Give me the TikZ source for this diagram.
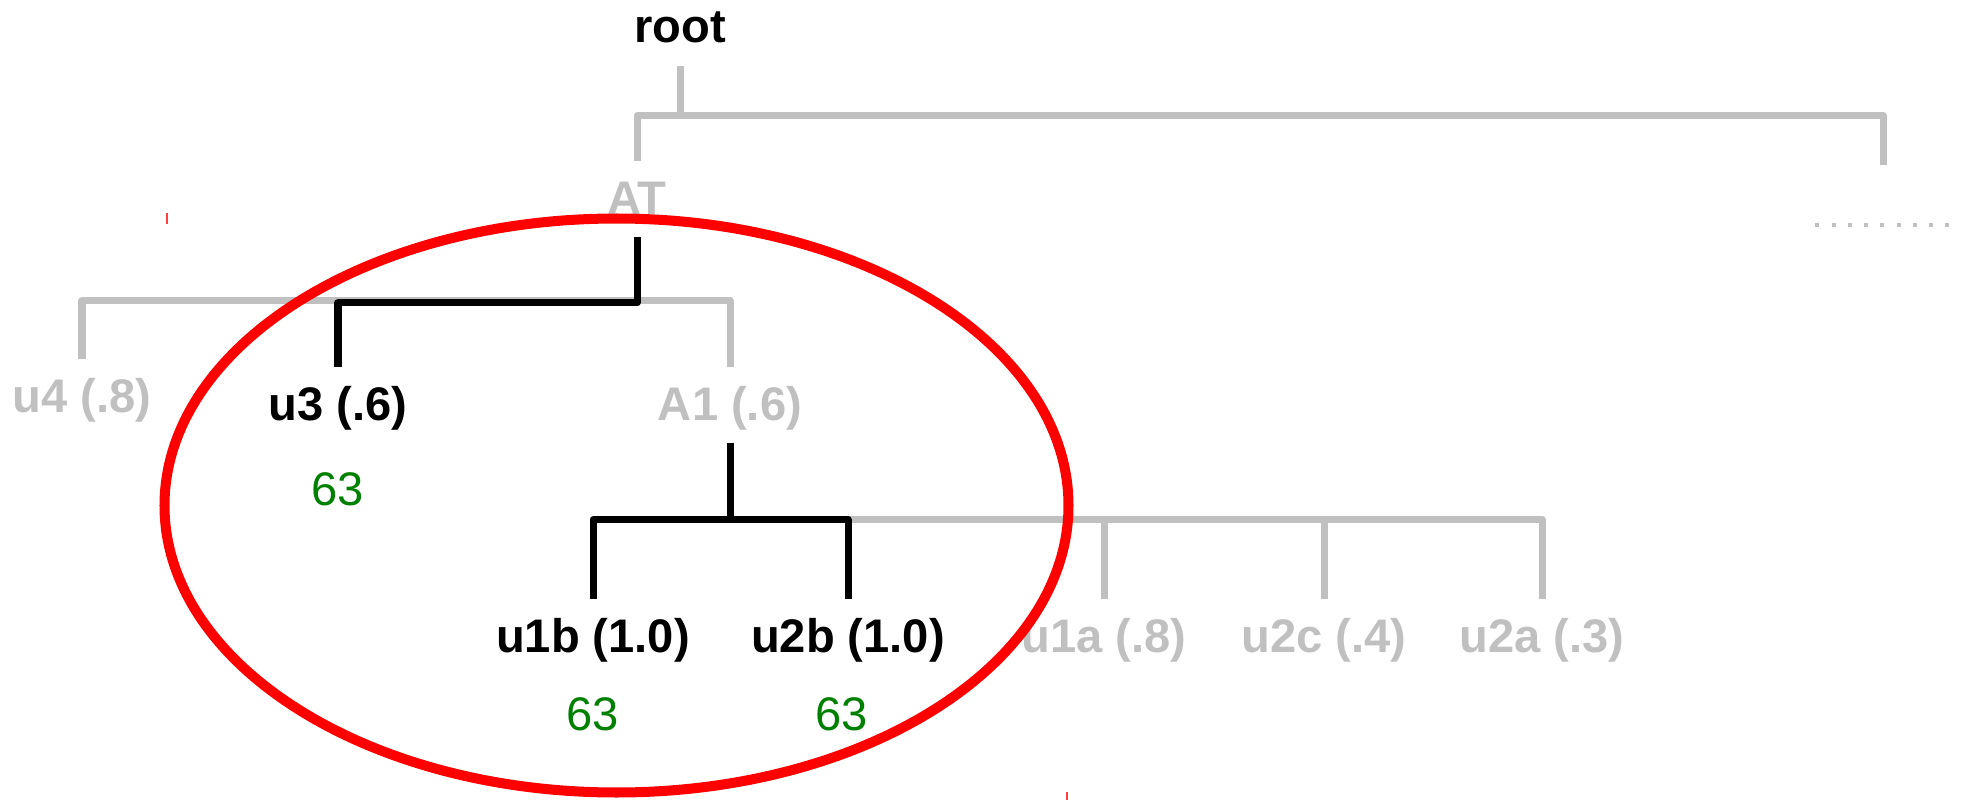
\documentclass[tikz,border=0pt]{standalone}
\usepackage{fontspec}
\setmainfont{Liberation Sans}
\usepackage{xcolor}
\usepackage{tikz}
\usetikzlibrary{positioning}

\definecolor{treegray}{RGB}{192,192,192}
\definecolor{scoregreen}{RGB}{0,128,0}

\begin{document}
\begin{tikzpicture}[
  x=0.01cm, y=-0.01cm,
  lbl/.style={font=\fontsize{13.4}{16}\selectfont\bfseries, anchor=base,
              text height=0.42cm, text depth=0.12cm, inner xsep=0pt, inner ysep=1mm},
  dim/.style={lbl, text=treegray},
  score/.style={font=\fontsize{13.4}{16}\selectfont, text=scoregreen, anchor=base, inner sep=0pt},
  edge/.style={draw=treegray, line width=0.07cm, line join=round},
  hot/.style={draw=black, line width=0.07cm, line join=round},
  dotrow/.style={draw=treegray, line width=0.04cm, dash pattern=on 0.04cm off 0.1225cm}
]
\useasboundingbox (0,0) rectangle (1962,800);

% labels
\node[lbl] (root) at (680,43) {root};
\node[dim] (AT) at (637,214) {AT};
\node[inner sep=0pt, minimum width=1.34cm, minimum height=0.04cm] (more) at (1883,225) {};
\node[dim] (u4) at (82,412) {u4 (.8)};
\node[lbl] (u3) at (338,420) {u3 (.6)};
\node[dim] (A1) at (730,420) {A1 (.6)};
\node[lbl] (u1b) at (593,652) {u1b (1.0)};
\node[lbl] (u2b) at (848,652) {u2b (1.0)};
\node[dim] (u1a) at (1104,652) {u1a (.8)};
\node[dim] (u2c) at (1324,652) {u2c (.4)};
\node[dim] (u2a) at (1542,652) {u2a (.3)};
\node[score] (s3) at (338,505) {63};
\node[score] (s1b) at (593,730) {63};
\node[score] (s2b) at (842,730) {63};

% gray tree
\draw[edge] (root.south) -- ++(0,50) coordinate (rootbar);
\draw[edge, shorten >=0.57cm] (AT.north) |- (rootbar) -| (more.north);
\draw[dotrow] (more.west) -- (more.east);
\draw[edge] (AT.south) -- ++(0,64) coordinate (ATbar);
\draw[edge] (u4.north) |- (ATbar) -| (A1.north);
\draw[edge] (A1.south) -- ++(0,77) coordinate (A1bar);
\draw[edge] (u1b.north) |- (A1bar) -| (u2a.north);
\draw[edge] (u1a.north) |- (A1bar);
\draw[edge] (u2c.north) |- (A1bar);

% chosen path
\draw[hot] (AT.south) -- ++(0,66) -| (u3.north);
\draw[hot] (A1.south) -- ++(0,77) coordinate (A1hot);
\draw[hot] (u1b.north) |- (A1hot) -| (u2b.north);

% selection
\draw[red, line width=0.1cm] (616.5,505.5) ellipse [x radius=452, y radius=287];
\draw[red!75, line width=0.02cm] (167,213) -- (167,224);
\draw[red!75, line width=0.02cm] (1067,792) -- (1067,800);
\end{tikzpicture}
\end{document}
